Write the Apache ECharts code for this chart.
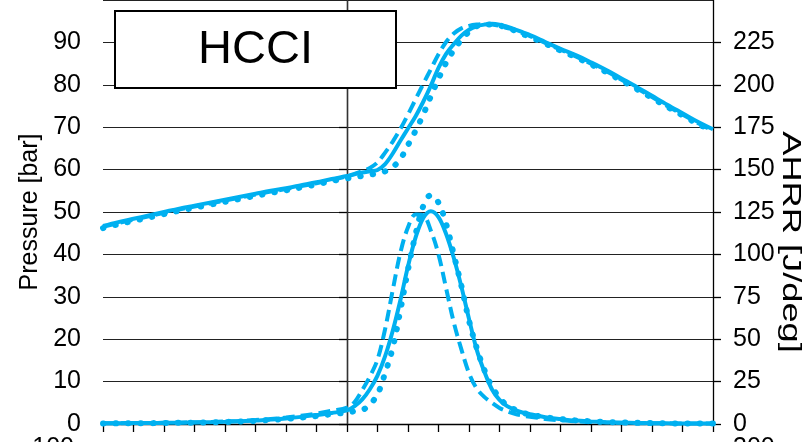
<!DOCTYPE html>
<html>
<head>
<meta charset="utf-8">
<script src="https://cdn.jsdelivr.net/npm/echarts@6/dist/echarts.min.js"></script>
<style>
html,body{margin:0;padding:0;background:#fff;}
#chart{width:804px;height:442px;}
</style>
</head>
<body>
<div id="chart"></div>
<script>
// Crank angle [deg] (x axis, labels not visible in the reference)
const angles = [-16,-15,-14,-13,-12,-11,-10,-9,-8,-7,-6,-5,-4,-3,-2,-1,
  0,0.5,1,1.5,2,2.5,3,3.5,4,4.5,5,5.5,6,6.5,7,7.5,8,8.5,9,9.5,10,10.5,11,11.5,12,
  13,14,15,16,17,18,19,20,21,22,23,24];

// Pressure [bar] (left axis)
const pressureSolid = [46.7,47.6,48.4,49.2,50.0,50.8,51.5,52.2,52.9,53.6,54.3,55.0,55.6,56.3,57.0,57.8,
  58.5,58.9,59.3,59.6,59.9,61.3,63.8,66.8,69.7,72.6,76.0,79.8,84.0,87.3,89.6,91.6,93.0,93.8,94.2,94.4,94.2,93.7,93.1,92.4,91.7,
  90.1,88.5,87.0,85.3,83.5,81.5,79.5,77.4,75.3,73.3,71.3,69.5];
const pressureDashed = [46.5,47.4,48.2,49.0,49.8,50.6,51.3,52.0,52.7,53.4,54.1,54.8,55.4,56.1,56.8,57.6,
  58.4,59.0,59.6,60.4,61.7,64.0,66.6,69.6,73.0,76.6,80.2,83.7,87.2,90.1,92.1,93.3,93.9,94.2,94.3,94.2,93.9,93.4,92.9,92.2,91.5,
  89.9,88.3,86.7,85.0,83.2,81.2,79.2,77.1,75.0,73.0,71.0,69.2];
const pressureDotted = [46.2,47.1,47.9,48.7,49.5,50.3,51.0,51.7,52.4,53.1,53.8,54.5,55.1,55.8,56.5,57.3,
  57.9,58.2,58.5,58.8,59.1,59.6,60.6,62.5,65.8,69.2,73.0,77.3,81.4,85.2,88.2,90.6,92.5,93.8,94.2,94.2,94.0,93.4,92.8,92.0,91.3,
  89.7,88.1,86.5,84.8,83.0,81.0,79.0,76.9,74.8,72.8,70.8,69.0];

// AHRR [J/deg] (right axis)
const ahrrSolid = [0.5,0.5,0.6,0.6,0.7,0.8,0.9,1.1,1.3,1.6,2.0,2.6,3.3,4.2,5.3,6.5,
  8.0,10.5,14.5,20.5,28.5,40,55,73,93,110,121.5,125.5,122,112,98,81,62,44,31,20.5,14.2,10.5,8.3,6.8,5.8,
  4.0,2.9,2.0,1.5,1.1,0.8,0.6,0.5,0.4,0.3,0.3,0.3];
const ahrrDashed = [0.4,0.5,0.5,0.6,0.7,0.8,1.0,1.2,1.5,1.8,2.3,3.0,3.8,4.9,6.2,7.8,
  9.6,13,20,28,38,56,79,101,116,123.5,123,114,100,80,60,44,30,21,16,12.5,9.5,7.5,6.0,5.0,4.3,
  3.0,2.2,1.6,1.2,0.9,0.7,0.5,0.4,0.4,0.3,0.3,0.3];
const ahrrDotted = [0.3,0.4,0.5,0.5,0.6,0.7,0.8,1.0,1.2,1.5,1.9,2.4,3.0,3.8,4.7,5.8,
  6.8,7.5,8.2,11.5,17.5,30,45,67,91,112,128.5,135,130.5,118,100,81.5,61,45,32,22,15.5,10.8,8.5,6.7,5.6,
  4.0,2.9,2.1,1.6,1.2,0.9,0.7,0.5,0.4,0.3,0.3,0.3];

const tdcAngle = 0;
const titleText = 'HCCI';
const leftName = 'Pressure [bar]';
const rightName = 'AHRR [J/deg]';
const belowLeftLabel = '100';
const belowRightLabel = '300';

const BLUE = '#00B0F0';
const FONT = 'Liberation Sans, Arial, sans-serif';
const pairs = vals => angles.map((a, i) => [a, vals[i]]);

function lineSeries(name, vals, axis, type) {
  const ls = {color: BLUE, width: 4};
  if (type === 'dashed') { ls.type = [12, 6]; ls.width = 4; }
  if (type === 'dotted') { ls.type = [0.5, 12]; ls.width = 6; ls.cap = 'round'; }
  return {
    name, type: 'line', yAxisIndex: axis, data: pairs(vals),
    showSymbol: false, smooth: 0.35, lineStyle: ls, z: 3, silent: true
  };
}

const chart = echarts.init(document.getElementById('chart'), null, {renderer: 'canvas'});
const series = [
  lineSeries('p_solid', pressureSolid, 0, 'solid'),
  lineSeries('p_dashed', pressureDashed, 0, 'dashed'),
  lineSeries('p_dotted', pressureDotted, 0, 'dotted'),
  lineSeries('a_solid', ahrrSolid, 1, 'solid'),
  lineSeries('a_dashed', ahrrDashed, 1, 'dashed'),
  lineSeries('a_dotted', ahrrDotted, 1, 'dotted')
];
series[0].markLine = {
  silent: true, symbol: 'none', label: {show: false},
  lineStyle: {color: '#333', width: 1.3, type: 'solid'},
  data: [{xAxis: tdcAngle}], z: 1
};

chart.setOption({
  animation: false,
  backgroundColor: '#fff',
  grid: {left: 103, right: 91, top: -4, bottom: 18},
  xAxis: {
    type: 'value', min: -16, max: 24, interval: 2,
    axisLine: {show: true, lineStyle: {color: '#000', width: 1.3}},
    axisTick: {show: true, length: 8, lineStyle: {color: '#000', width: 1.3}},
    axisLabel: {show: false},
    splitLine: {show: false}
  },
  yAxis: [{
    type: 'value', min: 0, max: 100, interval: 10,
    name: leftName, nameLocation: 'middle', nameGap: 58,
    nameTextStyle: {fontFamily: FONT, fontSize: 25, color: '#000'},
    axisLine: {show: true, lineStyle: {color: '#000', width: 1.3}},
    axisTick: {show: true, length: 8, lineStyle: {color: '#000', width: 1.3}},
    axisLabel: {fontFamily: FONT, fontSize: 25, color: '#000', margin: 22, align: 'right', showMaxLabel: false},
    splitLine: {show: true, lineStyle: {color: '#222', width: 1.2}}
  }, {
    type: 'value', min: 0, max: 250, interval: 25, position: 'right',
    axisLine: {show: true, lineStyle: {color: '#000', width: 1.3}},
    axisTick: {show: true, length: 8, lineStyle: {color: '#000', width: 1.3}},
    axisLabel: {fontFamily: FONT, fontSize: 25, color: '#000', margin: 20, align: 'left', showMaxLabel: false},
    splitLine: {show: false}
  }],
  graphic: [
    {type: 'rect', z: 100, shape: {x: 115, y: 11, width: 281, height: 77},
     style: {fill: '#fff', stroke: '#000', lineWidth: 2}},
    {type: 'text', z: 101, x: 255.5, y: 50,
     style: {text: titleText, fontFamily: FONT, fontSize: 47, fill: '#000', align: 'center', verticalAlign: 'middle'}},
    {type: 'text', z: 101, x: 790, y: 242, rotation: -Math.PI / 2, scaleX: 1.45,
     style: {text: rightName, fontFamily: FONT, fontSize: 25, fill: '#000', align: 'center', verticalAlign: 'middle'}},
    {type: 'text', z: 101, x: 74, y: 436,
     style: {text: belowLeftLabel, fontFamily: FONT, fontSize: 25, fill: '#000', align: 'right', verticalAlign: 'top'}},
    {type: 'text', z: 101, x: 733, y: 436,
     style: {text: belowRightLabel, fontFamily: FONT, fontSize: 25, fill: '#000', align: 'left', verticalAlign: 'top'}}
  ],
  series
});
</script>
</body>
</html>
